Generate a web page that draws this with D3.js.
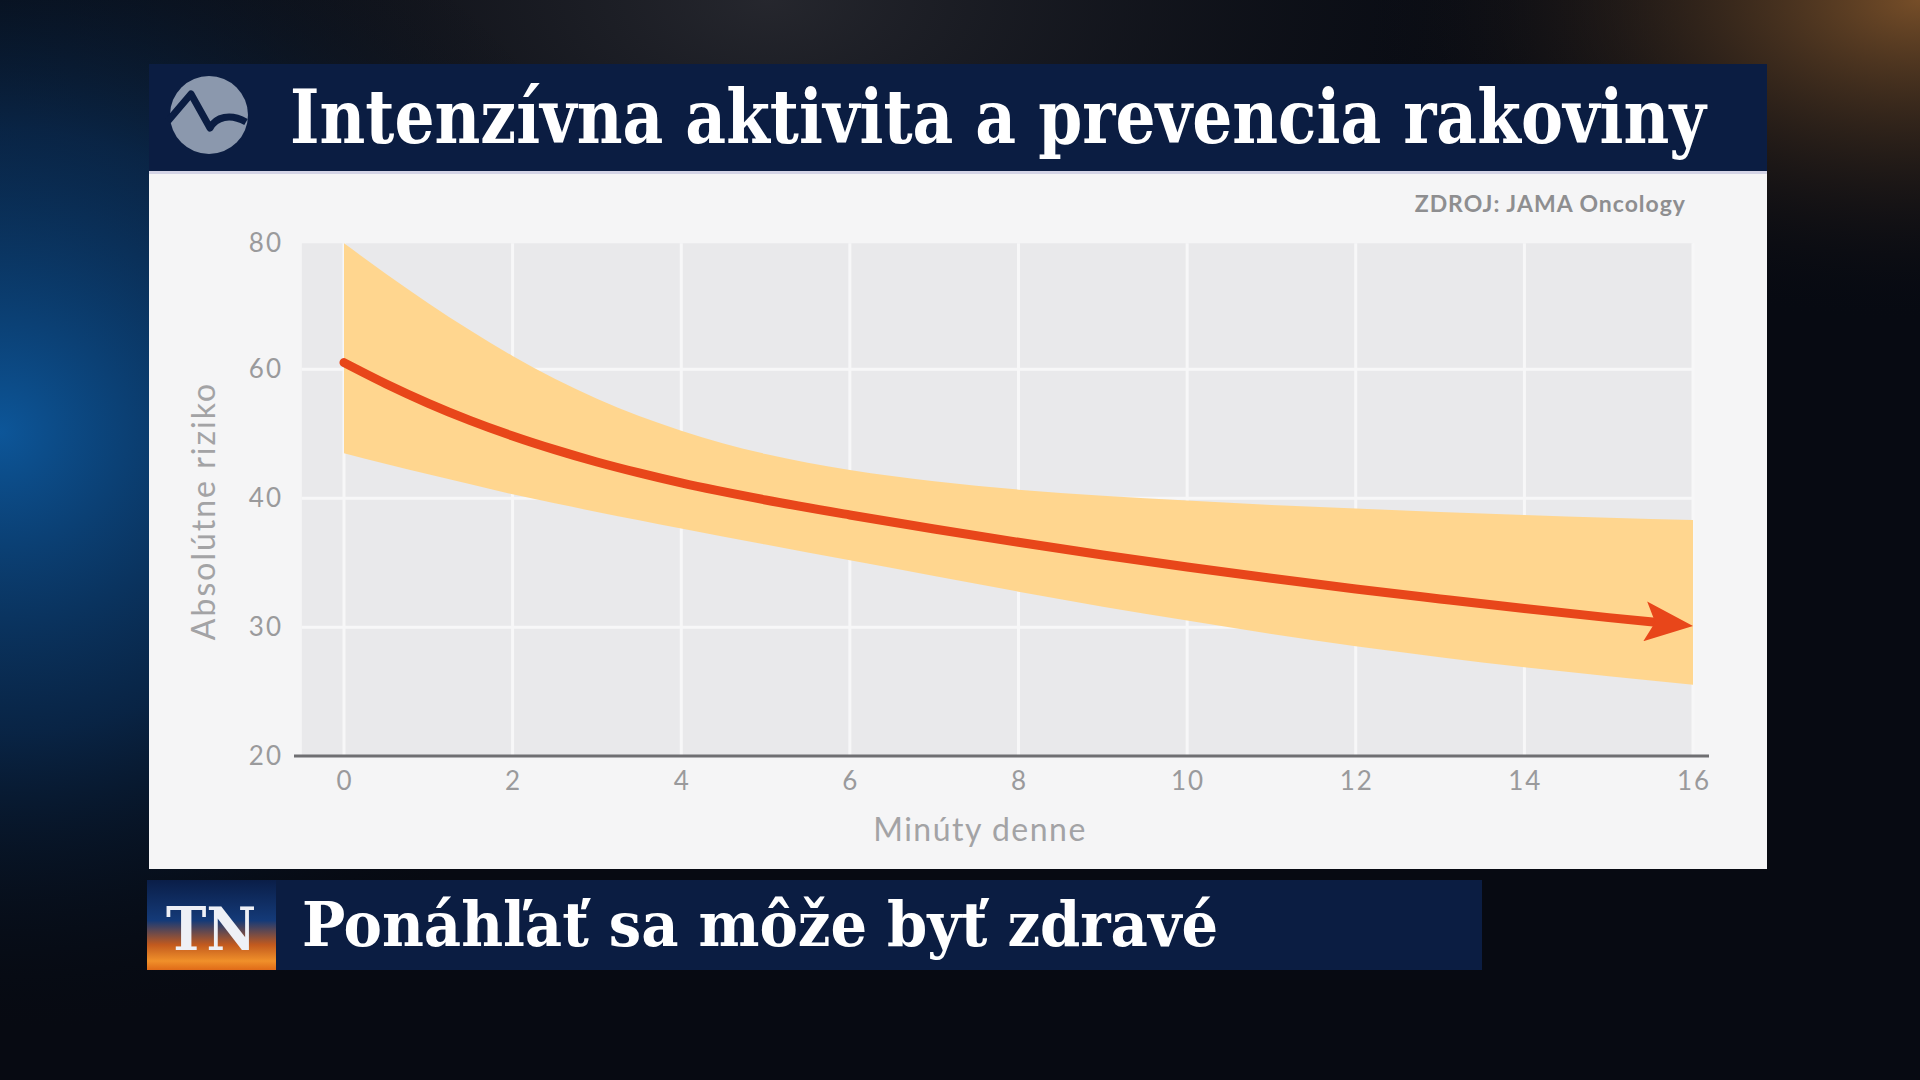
<!DOCTYPE html>
<html><head><meta charset="utf-8">
<script src="https://cdn.jsdelivr.net/npm/d3@7"></script>
<style>html,body{margin:0;padding:0;background:#060a12;overflow:hidden}</style>
</head><body>
<svg id="c" width="1920" height="1080"></svg>
<script>
// ---- data ----
const titleText = "Intenzívna aktivita a prevencia rakoviny";
const subtitleText = "Ponáhľať sa môže byť zdravé";
const sourceText = "ZDROJ: JAMA Oncology";
const xTitle = "Minúty denne";
const yTitle = "Absolútne riziko";
const xTicks = [0, 2, 4, 6, 8, 10, 12, 14, 16];
const yTicks = [20, 30, 40, 60, 80];
const minutes = [0, 0.5, 1, 1.5, 2, 2.5, 3, 3.5, 4, 5, 6, 7, 8, 9, 10, 11, 12, 13, 14, 15, 16];
const risk    = [61.06, 57.73, 54.73, 52.04, 49.66, 47.54, 45.63, 43.93, 42.38, 39.87, 38.71, 37.62, 36.59, 35.61, 34.68, 33.80, 32.97, 32.20, 31.45, 30.75, 30.10];
const upper   = [80.0, 75.13, 70.48, 66.14, 62.12, 58.55, 55.45, 52.76, 50.49, 46.87, 44.39, 42.64, 41.34, 40.41, 39.82, 39.48, 39.20, 38.94, 38.71, 38.50, 38.32];
const lower   = [46.98, 45.32, 43.72, 42.17, 40.62, 39.61, 38.94, 38.29, 37.65, 36.41, 35.19, 33.98, 32.76, 31.60, 30.52, 29.48, 28.52, 27.67, 26.89, 26.19, 25.54];

const svg = d3.select("#c");
const defs = svg.append("defs");

// ---- background ----
const g1 = defs.append("radialGradient").attr("id","blueGlow").attr("cx",0).attr("cy",0.62).attr("r",0.35)
  .attr("gradientTransform","scale(1,1.6) translate(0,-0.37)");
g1.append("stop").attr("offset",0).attr("stop-color","#0d5aa0").attr("stop-opacity",0.95);
g1.append("stop").attr("offset",0.5).attr("stop-color","#0a3566").attr("stop-opacity",0.6);
g1.append("stop").attr("offset",1).attr("stop-color","#060a12").attr("stop-opacity",0);
const g2 = defs.append("radialGradient").attr("id","brownGlow").attr("cx",1).attr("cy",0).attr("r",0.3);
g2.append("stop").attr("offset",0).attr("stop-color","#8a5a2c").attr("stop-opacity",0.85);
g2.append("stop").attr("offset",1).attr("stop-color","#060a12").attr("stop-opacity",0);
const g3 = defs.append("radialGradient").attr("id","topGlow").attr("cx",0.4).attr("cy",0).attr("r",0.5);
g3.append("stop").attr("offset",0).attr("stop-color","#3a3a40").attr("stop-opacity",0.6);
g3.append("stop").attr("offset",1).attr("stop-color","#060a12").attr("stop-opacity",0);
svg.append("rect").attr("width",1920).attr("height",1080).attr("fill","#070a12");
svg.append("rect").attr("width",1920).attr("height",1080).attr("fill","url(#topGlow)");
svg.append("rect").attr("width",1920).attr("height",1080).attr("fill","url(#brownGlow)");
svg.append("rect").attr("width",1920).attr("height",1080).attr("fill","url(#blueGlow)");

// ---- title bar ----
const navy = "#0b1d42";
svg.append("rect").attr("x",149).attr("y",64).attr("width",1618).attr("height",107).attr("fill",navy);
svg.append("circle").attr("cx",209).attr("cy",115).attr("r",39).attr("fill","#8b98ad");
svg.append("path").attr("d","M168,121 L191,94 L210,128 C216,117 230,113 246,122")
  .attr("fill","none").attr("stroke",navy).attr("stroke-width",7).attr("stroke-linejoin","round");
svg.append("text").attr("x",290).attr("y",143)
  .attr("font-family","'DejaVu Serif Condensed','DejaVu Serif',serif").attr("font-weight","bold")
  .attr("font-size",75).attr("fill","#ffffff")
  .attr("textLength",1416).attr("lengthAdjust","spacingAndGlyphs").text(titleText);

// ---- white panel ----
svg.append("rect").attr("x",149).attr("y",171).attr("width",1618).attr("height",698).attr("fill","#f5f5f6");
svg.append("rect").attr("x",149).attr("y",171).attr("width",1618).attr("height",3).attr("fill","#d4d4e6");

// ---- scales ----
const x = d3.scaleLinear().domain([0,16]).range([344,1693]);
const y = d3.scaleLinear().domain(yTicks).range([756, 627.3, 498.3, 369.3, 243.3]);

const font = "Lato, 'Open Sans', sans-serif";
svg.append("rect").attr("x",x(-0.5)).attr("y",y(80)).attr("width",x(16)-x(-0.5)).attr("height",y(20)-y(80)).attr("fill","#e9e9eb");
svg.append("g").selectAll("line").data(xTicks).join("line")
  .attr("x1",d=>x(d)).attr("x2",d=>x(d)).attr("y1",y(80)).attr("y2",y(20))
  .attr("stroke","#f7f7f8").attr("stroke-width",3);
svg.append("g").selectAll("line").data(yTicks.filter(d=>d>20 && d<80)).join("line")
  .attr("x1",x(-0.5)).attr("x2",x(16)).attr("y1",d=>y(d)).attr("y2",d=>y(d))
  .attr("stroke","#f7f7f8").attr("stroke-width",3);

// band
const pts = minutes.map((m,i)=>({m, c:risk[i], u:upper[i], l:lower[i]}));
svg.append("path").datum(pts)
  .attr("d", d3.area().x(d=>x(d.m)).y0(d=>y(d.l)).y1(d=>y(d.u)).curve(d3.curveMonotoneX))
  .attr("fill","#ffd68f");

// arrow
defs.append("marker").attr("id","arrow").attr("markerUnits","userSpaceOnUse")
  .attr("viewBox","0 0 48 40").attr("refX",48).attr("refY",20)
  .attr("markerWidth",48).attr("markerHeight",40).attr("orient","auto")
  .append("path").attr("d","M0,0 L48,20 L0,40 L10,20 Z").attr("fill","#e8461a");
const line = svg.append("path").datum(pts)
  .attr("d", d3.line().x(d=>x(d.m)).y(d=>y(d.c)).curve(d3.curveMonotoneX))
  .attr("fill","none").attr("stroke","#e8461a").attr("stroke-width",9)
  .attr("stroke-linecap","round").attr("marker-end","url(#arrow)");
const L = line.node().getTotalLength();
line.attr("stroke-dasharray", `${L-30} ${L}`);

// axes
svg.append("line").attr("x1",294).attr("x2",1709).attr("y1",y(20)).attr("y2",y(20))
  .attr("stroke","#6f6f72").attr("stroke-width",3);
svg.append("g").selectAll("text").data(yTicks).join("text")
  .attr("x",283).attr("y",d=>y(d)+9).attr("text-anchor","end").attr("letter-spacing",2)
  .attr("font-family",font).attr("font-size",26).attr("fill","#9a9a9c").text(d=>d);
svg.append("g").selectAll("text").data(xTicks).join("text")
  .attr("x",d=>x(d)+1).attr("y",790).attr("text-anchor","middle").attr("letter-spacing",2)
  .attr("font-family",font).attr("font-size",26).attr("fill","#9a9a9c").text(d=>d);
svg.append("text").attr("x",980).attr("y",841).attr("text-anchor","middle").attr("letter-spacing",1.5)
  .attr("font-family",font).attr("font-size",32).attr("fill","#a3a3a5").text(xTitle);
svg.append("text").attr("transform","translate(215,511) rotate(-90)").attr("text-anchor","middle").attr("letter-spacing",2)
  .attr("font-family",font).attr("font-size",32).attr("fill","#a3a3a5").text(yTitle);
svg.append("text").attr("x",1686).attr("y",212).attr("text-anchor","end").attr("letter-spacing",1)
  .attr("font-family",font).attr("font-weight","bold").attr("font-size",23).attr("fill","#8e8e90").text(sourceText);

// ---- bottom bar ----
svg.append("rect").attr("x",276).attr("y",880).attr("width",1206).attr("height",90).attr("fill",navy);
const tg = defs.append("linearGradient").attr("id","tn").attr("x1",0).attr("y1",0).attr("x2",0).attr("y2",1);
tg.append("stop").attr("offset",0).attr("stop-color","#0a1e48");
tg.append("stop").attr("offset",0.45).attr("stop-color","#143a78");
tg.append("stop").attr("offset",0.72).attr("stop-color","#c25a1e");
tg.append("stop").attr("offset",0.9).attr("stop-color","#f0902a");
tg.append("stop").attr("offset",1).attr("stop-color","#e06a18");
svg.append("rect").attr("x",147).attr("y",880).attr("width",129).attr("height",90).attr("fill","url(#tn)");
svg.append("text").attr("x",211).attr("y",950).attr("text-anchor","middle")
  .attr("font-family","'DejaVu Serif Condensed','DejaVu Serif',serif").attr("font-weight","bold")
  .attr("font-size",60).attr("fill","#eef0f6").attr("textLength",90).attr("lengthAdjust","spacingAndGlyphs").text("TN");
svg.append("text").attr("x",302).attr("y",946)
  .attr("font-family","'DejaVu Serif Condensed','DejaVu Serif',serif").attr("font-weight","bold")
  .attr("font-size",62).attr("fill","#ffffff")
  .attr("textLength",916).attr("lengthAdjust","spacingAndGlyphs").text(subtitleText);
</script>
</body></html>
